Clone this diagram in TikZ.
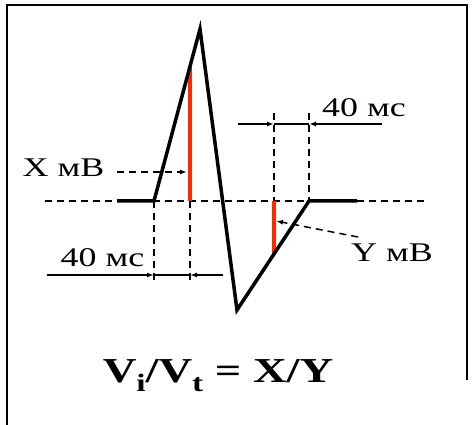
\documentclass[tikz,border=0pt]{standalone}
\usepackage{fontspec}
\setmainfont[FakeStretch=1.33]{Liberation Serif}
\usetikzlibrary{arrows.meta}
\definecolor{levelred}{RGB}{255,40,0}

\begin{document}
\begin{tikzpicture}[x=1pt, y=-1pt,
    wave/.style={line width=3.5pt, line join=miter},
    level/.style={line width=3.5pt, levelred},
    guide/.style={line width=1.5pt, dash pattern=on 7pt off 5pt},
    dim/.style={line width=1.4pt, -{Latex[length=7pt,width=5pt]}},
    lbl/.style={anchor=base, inner sep=0pt, font=\fontsize{27}{30}\selectfont}]
\useasboundingbox (0,0) rectangle (475,425);

% frame
\draw [line width=2pt] (7,425) -- (7,5) -- (467,5) -- (467,380);

% points of the complex
\coordinate (p0) at (117,201);
\coordinate (q)  at (154,201);
\coordinate (r)  at (200,29);
\coordinate (s)  at (237,310);
\coordinate (t)  at (309,201);
\coordinate (p1) at (357,201);

\coordinate (xb) at (190,201);
\coordinate (xt) at (190,67);
\coordinate (yt) at (274,201);
\coordinate (yb) at (274,254);

\coordinate (bl) at (45,201);
\coordinate (br) at (425,201);
\coordinate (qd) at (154,283);
\coordinate (xd) at (190,283);
\coordinate (yu) at (274,113);
\coordinate (tu) at (309,113);

\coordinate (d1) at (47,275);
\coordinate (d2) at (154,275);
\coordinate (d3) at (190,275);
\coordinate (d4) at (223,275);
\coordinate (e1) at (238,124);
\coordinate (e2) at (274,124);
\coordinate (e3) at (309,124);
\coordinate (e4) at (382,124);

\coordinate (xa) at (117,172);
\coordinate (xh) at (187,172);
\coordinate (ya) at (358,237);
\coordinate (yh) at (276,221);

% labels
\node [lbl] (xmv)  at (63.5,177) {X мВ};
\node [lbl] (ymv)  at (392,262)  {Y мВ};
\node [lbl] (tbot) at (102.5,267) {40 мс};
\node [lbl] (ttop) at (364,117)  {40 мс};
\node [lbl, font=\fontsize{35}{40}\selectfont\bfseries] (ratio) at (218,383)
    {V\raisebox{-9pt}{\fontsize{25}{25}\selectfont i}/V\raisebox{-9pt}{\fontsize{25}{25}\selectfont t} = X/Y};

% dashed guides
\foreach \s/\t in {bl/br,
                   q/qd,
                   xb/xd,
                   yu/yt,
                   tu/t}
    \draw [guide] (\s) -- (\t);

\draw [guide, -{Latex[length=7pt,width=5pt]}] (xa) -- (xh);
\draw [guide, -{Latex[length=7pt,width=5pt]}] (ya) -- (yh);

% time marks
\foreach \s/\t in {d1/d2,
                   d4/d3,
                   e1/e2,
                   e4/e3}
    \draw [dim] (\s) -- (\t);
\draw [line width=1.4pt] (d2) -- (d3);
\draw [line width=1.4pt] (e2) -- (e3);

% amplitudes
\draw [level] (xb) -- (xt);
\draw [level] (yt) -- (yb);

% complex
\draw [wave] (p0) -- (q) -- (r) -- (s) -- (t) -- (p1);

\end{tikzpicture}
\end{document}
